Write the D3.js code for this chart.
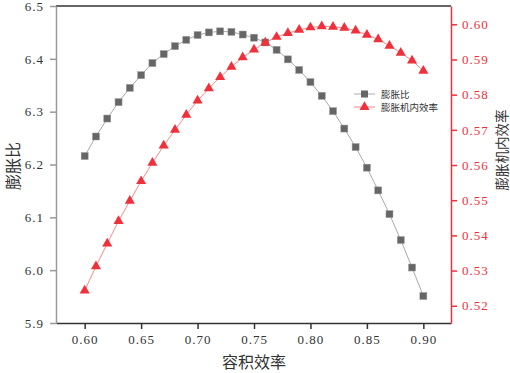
<!DOCTYPE html>
<html>
<head>
<meta charset="utf-8">
<script src="https://cdn.jsdelivr.net/npm/d3@7"></script>
<style>
  body { margin: 0; background: #fff; }
</style>
</head>
<body>
<div id="chart"></div>
<script>
// volumetric efficiency (x)
const volEff = [0.60, 0.61, 0.62, 0.63, 0.64, 0.65, 0.66, 0.67, 0.68, 0.69, 0.70,
                0.71, 0.72, 0.73, 0.74, 0.75, 0.76, 0.77, 0.78, 0.79, 0.80,
                0.81, 0.82, 0.83, 0.84, 0.85, 0.86, 0.87, 0.88, 0.89, 0.90];

// expansion ratio (left axis)
const expRatio = [6.216, 6.253, 6.287, 6.318, 6.345, 6.369, 6.392, 6.409, 6.424, 6.436, 6.445,
                  6.450, 6.452, 6.451, 6.446, 6.440, 6.431, 6.417, 6.399, 6.379, 6.356,
                  6.330, 6.301, 6.268, 6.233, 6.194, 6.151, 6.106, 6.057, 6.005, 5.951];

// expander internal efficiency (right axis)
const expEff = [0.5243, 0.5312, 0.5377, 0.5441, 0.5498, 0.5554, 0.5606, 0.5655, 0.5700, 0.5743, 0.5783,
                0.5818, 0.5850, 0.5879, 0.5906, 0.5928, 0.5948, 0.5964, 0.5975, 0.5984, 0.5991,
                0.5994, 0.5993, 0.5990, 0.5982, 0.5970, 0.5957, 0.5939, 0.5919, 0.5897, 0.5868];

const xTicks = [0.60, 0.65, 0.70, 0.75, 0.80, 0.85, 0.90];
const leftTicks = [5.9, 6.0, 6.1, 6.2, 6.3, 6.4, 6.5];
const rightTicks = [0.52, 0.53, 0.54, 0.55, 0.56, 0.57, 0.58, 0.59, 0.60];

const labels = { x: "容积效率", left: "膨胀比", right: "膨胀机内效率" };

const width = 510, height = 373;
const margin = { left: 56, right: 59, top: 6, bottom: 50 };
const plotW = width - margin.left - margin.right;
const plotH = height - margin.top - margin.bottom;

const numFont = "'Liberation Serif', 'DejaVu Serif', serif";
const cjkFont = "'Noto Sans CJK SC', sans-serif";

const svg = d3.select("#chart").append("svg")
    .attr("width", width)
    .attr("height", height);

const g = svg.append("g")
    .attr("transform", `translate(${margin.left},${margin.top})`);

const x = d3.scaleLinear().domain([0.5746, 0.9245]).range([0, plotW]);
const yL = d3.scaleLinear().domain([5.9, 6.5]).range([plotH, 0]);
const yR = d3.scaleLinear().domain([0.5151, 0.6052]).range([plotH, 0]);

const red = "#f0303a";

// top frame line
g.append("line")
    .attr("x1", 0).attr("x2", plotW).attr("y1", 0).attr("y2", 0)
    .attr("stroke", "#333").attr("stroke-width", 1.5);

// bottom axis
const xAxis = g.append("g")
    .attr("transform", `translate(0,${plotH})`)
    .call(d3.axisBottom(x).tickValues(xTicks).tickSize(6).tickSizeOuter(0).tickPadding(6)
        .tickFormat(d3.format(".2f")));
xAxis.select(".domain").attr("stroke", "#333").attr("stroke-width", 1.5);
xAxis.selectAll(".tick line").attr("stroke", "#333").attr("stroke-width", 1.5);
xAxis.selectAll("text").style("font-family", numFont)
    .attr("font-size", 13).attr("fill", "#333").attr("letter-spacing", 1);

// left axis
const lAxis = g.append("g")
    .call(d3.axisLeft(yL).tickValues(leftTicks).tickSize(6).tickSizeOuter(0).tickPadding(6)
        .tickFormat(d3.format(".1f")));
lAxis.select(".domain").attr("stroke", "#999").attr("stroke-width", 1.5);
lAxis.selectAll(".tick line").attr("stroke", "#999").attr("stroke-width", 1.5);
lAxis.selectAll("text").style("font-family", numFont)
    .attr("font-size", 13).attr("fill", "#333").attr("letter-spacing", 1);

// right axis
const rAxis = g.append("g")
    .attr("transform", `translate(${plotW},0)`)
    .call(d3.axisRight(yR).tickValues(rightTicks).tickSize(6).tickSizeOuter(0).tickPadding(5)
        .tickFormat(d3.format(".2f")));
rAxis.select(".domain").attr("stroke", red).attr("stroke-width", 1.5);
rAxis.selectAll(".tick line").attr("stroke", red).attr("stroke-width", 1.5);
rAxis.selectAll("text").style("font-family", numFont)
    .attr("font-size", 13).attr("fill", red).attr("letter-spacing", 1);

// axis titles
svg.append("text")
    .style("font-family", cjkFont)
    .attr("x", margin.left + x(0.75)).attr("y", 368)
    .attr("text-anchor", "middle").attr("font-size", 16).attr("fill", "#333")
    .text(labels.x);
svg.append("text")
    .style("font-family", cjkFont)
    .attr("transform", `translate(19,166) rotate(-90)`)
    .attr("text-anchor", "middle").attr("font-size", 16).attr("fill", "#333")
    .text(labels.left);
svg.append("text")
    .style("font-family", cjkFont)
    .attr("transform", `translate(507,150) rotate(-90)`)
    .attr("text-anchor", "middle").attr("font-size", 13.5).attr("fill", "#333")
    .text(labels.right);

// series
const ratioData = volEff.map((v, i) => ({ x: v, y: expRatio[i] }));
const effData = volEff.map((v, i) => ({ x: v, y: expEff[i] }));

g.append("path").datum(ratioData)
    .attr("fill", "none").attr("stroke", "#aaa").attr("stroke-width", 1)
    .attr("d", d3.line().x(d => x(d.x)).y(d => yL(d.y)));

g.append("path").datum(effData)
    .attr("fill", "none").attr("stroke", "#f88").attr("stroke-width", 1)
    .attr("d", d3.line().x(d => x(d.x)).y(d => yR(d.y)));

const sq = 7;
g.selectAll(".sq").data(ratioData).enter().append("rect")
    .attr("class", "sq")
    .attr("x", d => x(d.x) - sq / 2).attr("y", d => yL(d.y) - sq / 2)
    .attr("width", sq).attr("height", sq)
    .attr("fill", "#666").attr("stroke", "#999").attr("stroke-width", 0.5);

const tri = d3.symbol().type(d3.symbolTriangle).size(44);
g.selectAll(".tri").data(effData).enter().append("path")
    .attr("class", "tri")
    .attr("transform", d => `translate(${x(d.x)},${yR(d.y)})`)
    .attr("d", tri)
    .attr("fill", red);

// legend
const legend = svg.append("g").attr("transform", "translate(354,94)");
const items = [
  { name: labels.left, line: "#aaa", marker: "sq" },
  { name: labels.right, line: "#f88", marker: "tri" }
];
items.forEach((it, i) => {
  const row = legend.append("g").attr("transform", `translate(0,${i * 13})`);
  row.append("line").attr("x1", 0).attr("x2", 21).attr("y1", 0).attr("y2", 0)
      .attr("stroke", it.line).attr("stroke-width", 1);
  if (it.marker === "sq") {
    row.append("rect").attr("x", 10.5 - 3.5).attr("y", -3.5).attr("width", 7).attr("height", 7)
        .attr("fill", "#666");
  } else {
    row.append("path").attr("transform", "translate(10.5,0)").attr("d", tri).attr("fill", red);
  }
  row.append("text")
      .style("font-family", cjkFont)
      .attr("x", 27).attr("y", 3.5).attr("font-size", 9.5).attr("fill", "#333")
      .text(it.name);
});
</script>
</body>
</html>
